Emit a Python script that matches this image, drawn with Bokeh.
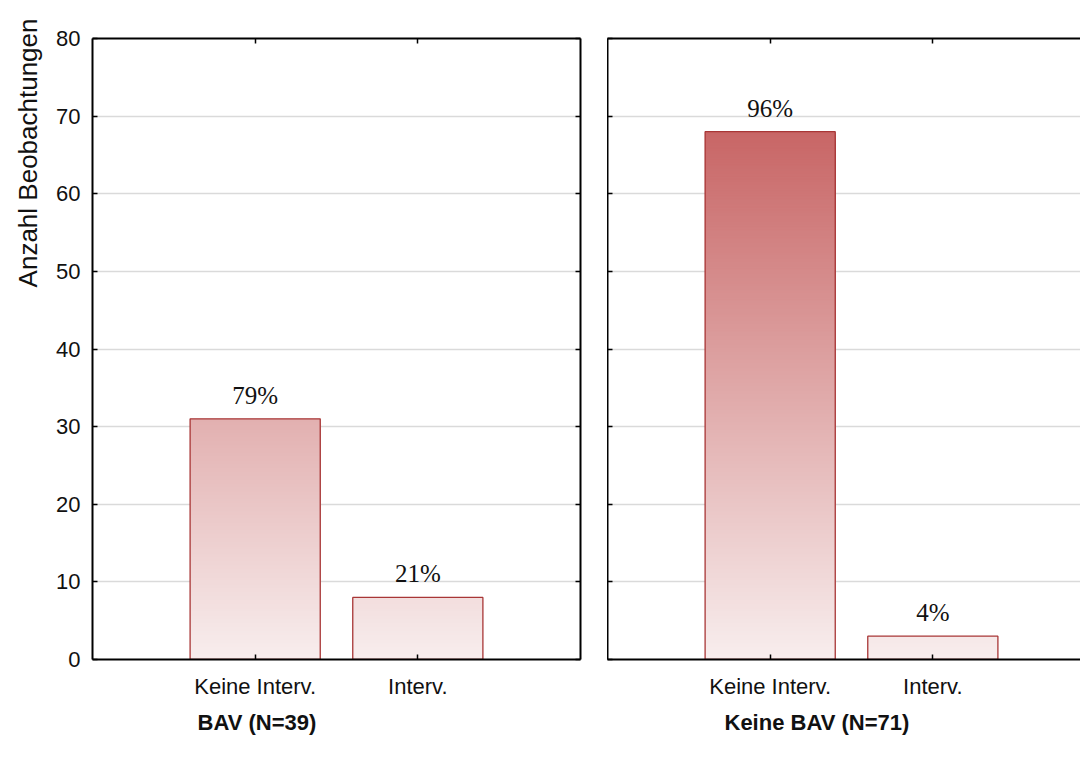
import math
from bokeh.plotting import figure
from bokeh.models import (Range1d, LinearAxis, FixedTicker, Grid, ColumnDataSource,
                          LabelSet, Title)
from bokeh.layouts import row
from bokeh.embed import file_html
from bokeh.resources import INLINE

# ---- data -------------------------------------------------------------
categories = ["Keine Interv.", "Interv."]
group_titles = ["BAV (N=39)", "Keine BAV (N=71)"]
bav_counts = [31, 8]
keine_bav_counts = [68, 3]
bav_pct_labels = ["79%", "21%"]
keine_bav_pct_labels = ["96%", "4%"]
y_ticks = [0, 10, 20, 30, 40, 50, 60, 70, 80]
y_title = "Anzahl Beobachtungen"

# ---- styling ----------------------------------------------------------
SANS = "Liberation Sans"
SERIF = "Liberation Serif"
GRAD_BOTTOM = (248, 238, 238)
GRAD_TOP = (200, 102, 102)
BAR_LINE = "#A83636"
GRID = "#DADADA"
FRAME_H = 621
PX_PER_UNIT = 162.67          # horizontal pixels per category step
Y_MAX = 80
STEP = 0.2                    # height of one gradient band (data units)
GRAD_SPAN = max(bav_counts + keine_bav_counts)


def grad_color(h):
    t = min(max(h / GRAD_SPAN, 0.0), 1.0)
    r, g, b = (round(GRAD_BOTTOM[i] + (GRAD_TOP[i] - GRAD_BOTTOM[i]) * t) for i in range(3))
    return f"#{r:02x}{g:02x}{b:02x}"


def style_axis(ax, ticks, labels=True):
    ax.axis_line_color = "black"
    ax.axis_line_width = 2
    ax.major_tick_line_color = "black"
    ax.major_tick_line_width = 1.5
    ax.major_tick_in = 5
    ax.major_tick_out = 0
    ax.minor_tick_line_color = None
    ax.major_label_text_font = SANS
    ax.major_label_text_font_size = "22px"
    ax.major_label_text_color = "#111111"
    if not labels:
        # tick marks only
        ax.major_label_overrides = {t: "" for t in ticks}
        ax.major_label_standoff = 0


def panel(counts, pct_labels, title, title_offset, frame_w, x_end, first):
    p = figure(frame_width=frame_w, frame_height=FRAME_H,
               x_range=Range1d(0, x_end), y_range=Range1d(0, Y_MAX),
               x_axis_type=None, y_axis_type=None,
               output_backend="svg", toolbar_location=None,
               min_border_left=92 if first else 0,
               min_border_right=27 if first else 0,
               min_border_top=38, min_border_bottom=101,
               background_fill_color="white", border_fill_color="white")
    p.outline_line_color = None

    xs = [i + 1 for i in range(len(categories))]
    x_ticker = FixedTicker(ticks=xs)
    y_ticker = FixedTicker(ticks=y_ticks)

    p.add_layout(Grid(dimension=1, ticker=y_ticker, grid_line_color=GRID,
                      grid_line_width=1.5), "center")

    # bars: stacked gradient bands, tallest band drawn first
    for x, c in zip(xs, counts):
        n = int(math.ceil(c / STEP))
        tops = [min(c, (k + 1) * STEP) for k in range(n)][::-1]
        p.quad(left=[x - 0.4] * n, right=[x + 0.4] * n, bottom=[0] * n, top=tops,
               fill_color=[grad_color(t) for t in tops], line_color=None)
    p.vbar(x=xs, top=counts, width=0.8, bottom=0, fill_color=None,
           line_color=BAR_LINE, line_width=1.3)

    src = ColumnDataSource(dict(x=xs, y=counts, t=pct_labels))
    p.add_layout(LabelSet(x="x", y="y", text="t", source=src, y_offset=15,
                          text_align="center", text_baseline="alphabetic",
                          text_font=SERIF, text_font_size="25px",
                          text_color="#111111"))

    below = LinearAxis(ticker=x_ticker,
                       major_label_overrides={x: c for x, c in zip(xs, categories)})
    style_axis(below, xs)
    below.major_label_standoff = 14
    p.add_layout(below, "below")

    above = LinearAxis(ticker=x_ticker)
    style_axis(above, xs, labels=False)
    p.add_layout(above, "above")

    left = LinearAxis(ticker=y_ticker)
    style_axis(left, y_ticks, labels=first)
    if first:
        left.major_label_standoff = 12
    p.add_layout(left, "left")

    if first:
        right = LinearAxis(ticker=y_ticker)
        style_axis(right, y_ticks, labels=False)
        p.add_layout(right, "right")
        p.add_layout(Title(text=y_title, align="right", offset=-20,
                           text_font=SANS, text_font_size="26px",
                           text_font_style="normal", text_color="#111111",
                           standoff=21), "left")

    p.add_layout(Title(text=title, align="left", offset=title_offset,
                       text_font=SANS, text_font_size="22px",
                       text_font_style="bold", text_color="#111111",
                       standoff=12), "below")
    return p


p_left = panel(bav_counts, bav_pct_labels, group_titles[0], 105, 488, 3.0, True)
p_right = panel(keine_bav_counts, keine_bav_pct_labels, group_titles[1], 117,
                473, 473 / PX_PER_UNIT, False)

layout = row(p_left, p_right)
open("out.html", "w").write(file_html(layout, INLINE))
